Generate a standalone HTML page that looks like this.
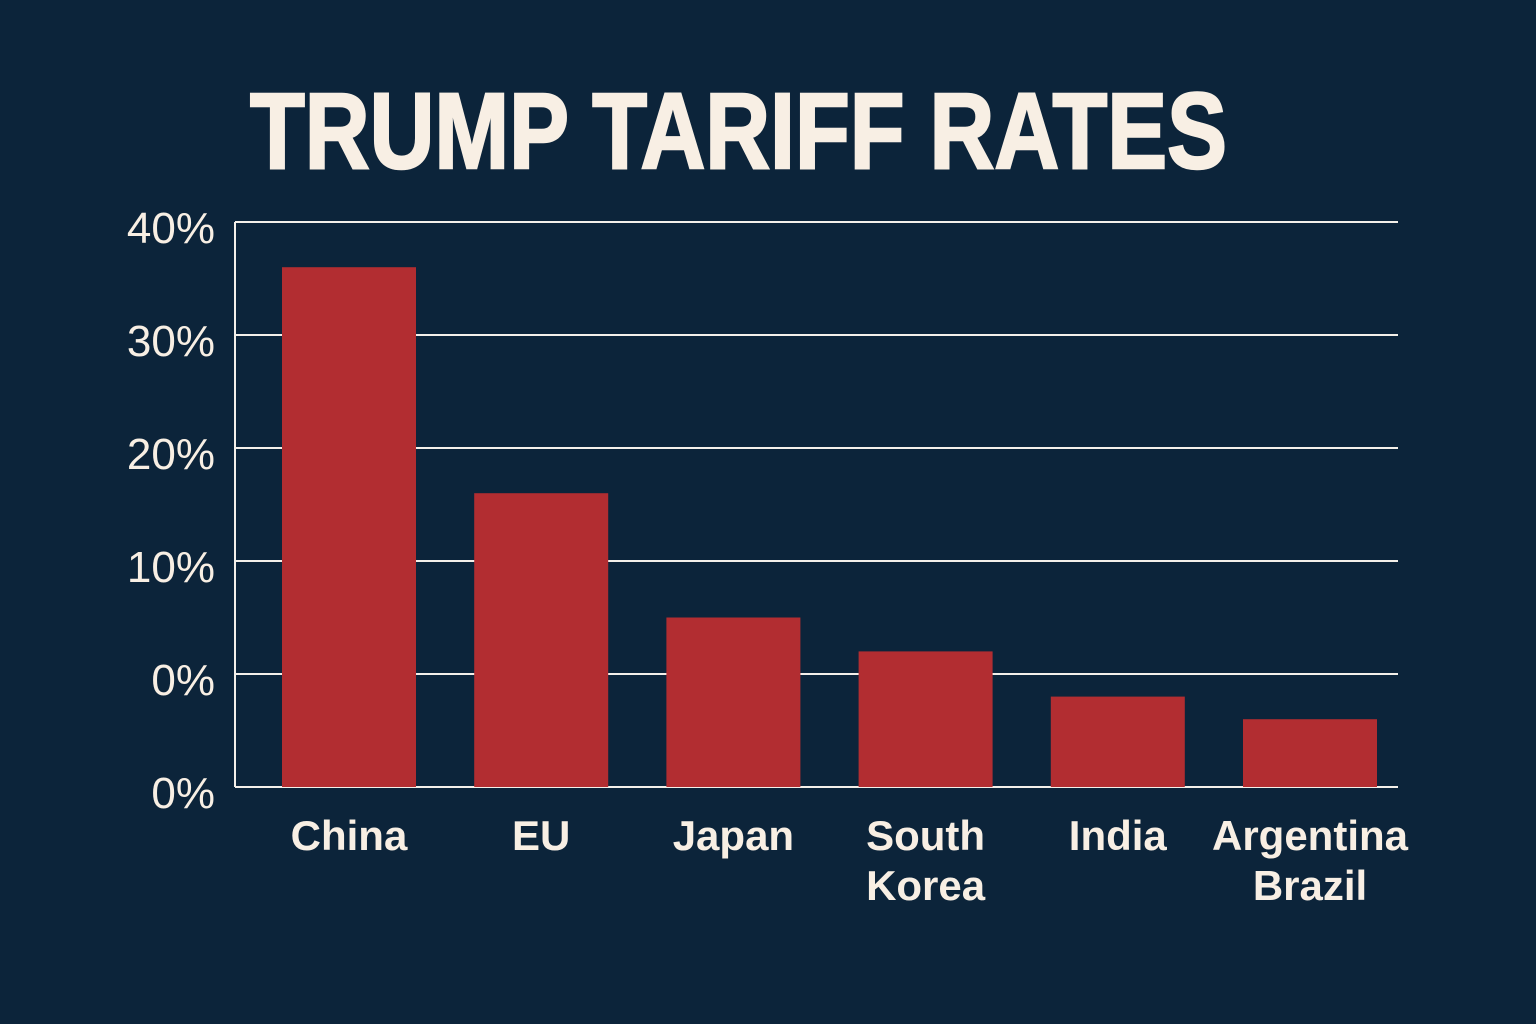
<!DOCTYPE html>
<html><head><meta charset="utf-8"><style>
html,body{margin:0;padding:0;background:#0c243a;}
svg{display:block;}
</style></head><body>
<svg id="chart" width="1536" height="1024" viewBox="0 0 1536 1024" xmlns="http://www.w3.org/2000/svg">
<rect width="1536" height="1024" fill="#0c243a"/>
<text x="250" y="168" textLength="977" lengthAdjust="spacingAndGlyphs" font-family="Liberation Sans, sans-serif" font-weight="bold" font-size="108" fill="#f8efe4" stroke="#f8efe4" stroke-width="2.5">TRUMP TARIFF RATES</text>
<g id="grid"></g><g id="bars"></g><g id="labels"></g>
</svg>
<script>
const categories = [["China"],["EU"],["Japan"],["South","Korea"],["India"],["Argentina","Brazil"]];
const values = [36, 16, 5, 2, -2, -4];
const tickValues = [40, 30, 20, 10, 0, -10];
const tickLabels = ["40%","30%","20%","10%","0%","0%"];
const yMin = -10, yMax = 40;
const plotTop = 222, plotBottom = 787, plotLeft = 235, plotRight = 1398;
const NS = "http://www.w3.org/2000/svg";
function yScale(v){ return plotBottom - (v - yMin) / (yMax - yMin) * (plotBottom - plotTop); }
const step = 192.2, firstCenter = 349, barW = 134;
function xc(i){ return firstCenter + i * step; }
function mk(tag, attrs){ const e = document.createElementNS(NS, tag); for (const k in attrs) e.setAttribute(k, attrs[k]); return e; }
const grid = document.getElementById('grid'), bars = document.getElementById('bars'), labels = document.getElementById('labels');
tickValues.forEach((t, i) => {
  const ln = mk('line', {x1:plotLeft, x2:plotRight, y1:yScale(t), y2:yScale(t), stroke:'#f4f0ea', 'stroke-width':2});
  
  
  grid.appendChild(ln);
  const tx = mk('text', {x:215, y:yScale(t)+21, 'text-anchor':'end', 'font-family':'Liberation Sans, sans-serif', 'font-size':44, fill:'#f8efe4'});
  tx.textContent = tickLabels[i];
  
  
  grid.appendChild(tx);
});
const ax = mk('line', {x1:plotLeft, x2:plotLeft, y1:plotTop, y2:plotBottom, stroke:'#f4f0ea', 'stroke-width':2});


grid.appendChild(ax);
values.forEach((v, i) => {
  const r = mk('rect', {x:xc(i)-barW/2, y:yScale(v), width:barW, height:plotBottom - yScale(v), fill:'#b22d31'});
  
  
  bars.appendChild(r);
  categories[i].forEach((line, j) => {
    const t = mk('text', {x:xc(i), y:850 + j*50, 'text-anchor':'middle', 'font-family':'Liberation Sans, sans-serif', 'font-weight':'bold', 'font-size':42, fill:'#f8efe4'});
    t.textContent = line;
    
    
    labels.appendChild(t);
  });
});
</script>
</body></html>
